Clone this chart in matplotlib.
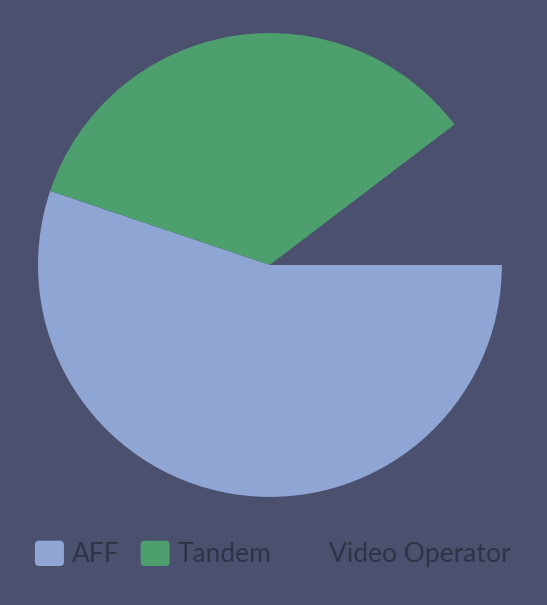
import matplotlib.pyplot as plt
from matplotlib.patches import FancyBboxPatch, Patch
from matplotlib.legend_handler import HandlerPatch

labels = ["AFF", "Tandem", "Video Operator"]
values = [16, 10, 3]
colors = ["#8fa6d5", "#4e9f6e", "#4a506e"]
bg = "#4a506e"


class RoundBox(HandlerPatch):
    def create_artists(self, legend, orig_handle, xdescent, ydescent,
                       width, height, fontsize, trans):
        p = FancyBboxPatch((-xdescent, -ydescent), width, height,
                           boxstyle="round,pad=0,rounding_size=3",
                           facecolor=orig_handle.get_facecolor(),
                           edgecolor="none", transform=trans)
        return [p]


fig = plt.figure(figsize=(5.47, 6.05), dpi=100, facecolor=bg)
ax = fig.add_axes([0.0695, 0.1785, 0.848, 0.767])
ax.set_facecolor(bg)
ax.pie(values, colors=colors, startangle=0, counterclock=False,
       wedgeprops=dict(linewidth=0))
ax.set_xlim(-1, 1)
ax.set_ylim(-1, 1)
ax.set_aspect("equal")

handles = [Patch(facecolor=c, edgecolor="none") for c in colors]
leg = fig.legend(handles, labels, loc="center", ncol=3,
                 bbox_to_anchor=(273 / 547, 1 - 554 / 605),
                 frameon=False, handlelength=1.1, handleheight=1.1,
                 handletextpad=0.3, columnspacing=0.8,
                 handler_map={Patch: RoundBox()},
                 prop={"family": "Lato", "size": 19})
for t in leg.get_texts():
    t.set_color("#2e3347")

fig.savefig("out.png", dpi=100, facecolor=bg)
